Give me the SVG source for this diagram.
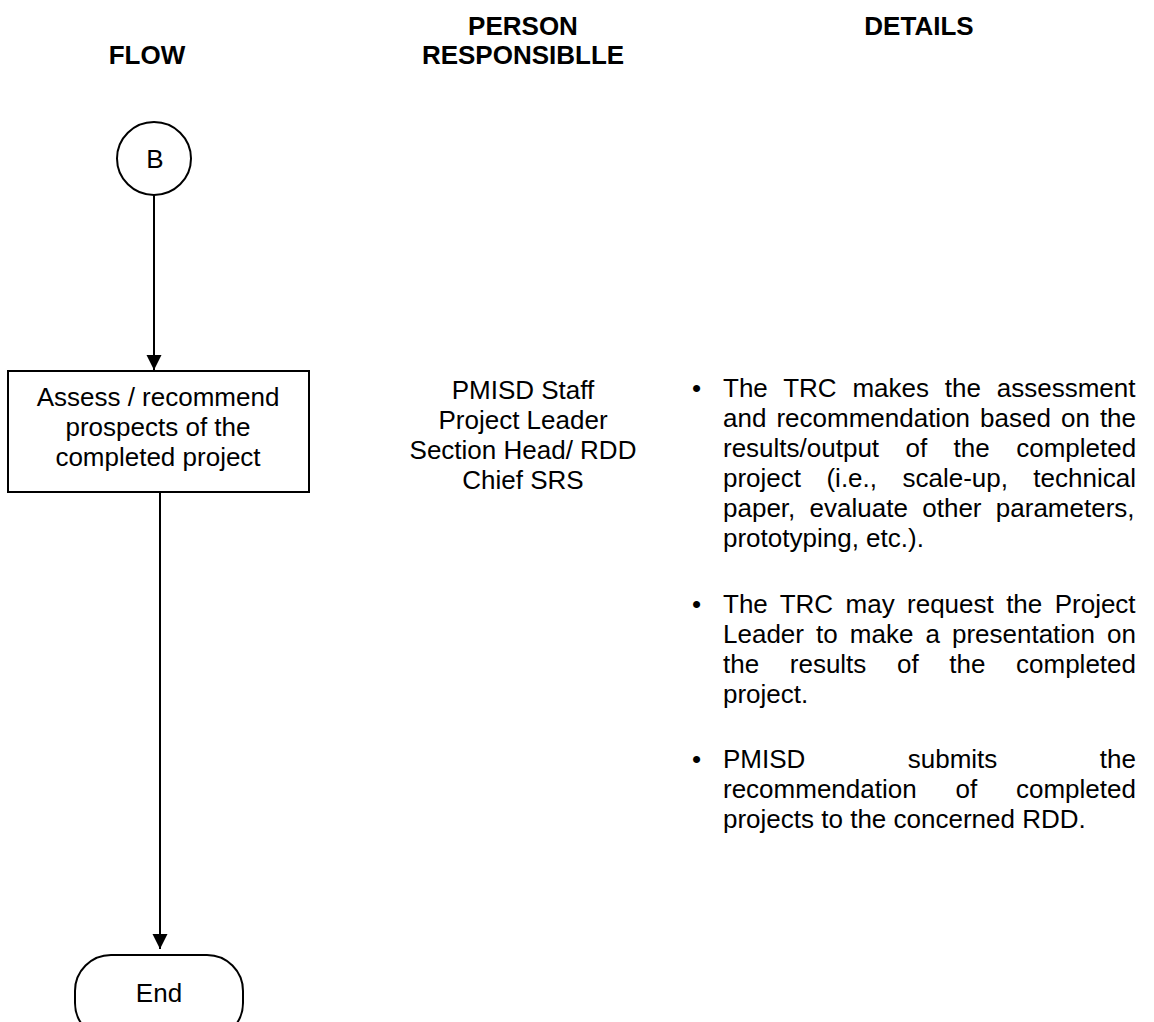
<svg xmlns="http://www.w3.org/2000/svg" width="1154" height="1022" viewBox="0 0 1154 1022">
  <style>
    text { font-family: "Liberation Sans", Arial, sans-serif; fill: #000; font-size: 26px; }
    .head { font-weight: bold; text-anchor: middle; }
    .mid { text-anchor: middle; }
    .shape { fill: #fff; stroke: #000; stroke-width: 2; }
    .conn { stroke: #000; stroke-width: 2; fill: none; }
  </style>
  <defs>
    <marker id="arrow" markerWidth="15" markerHeight="16" refX="15" refY="8" orient="auto" markerUnits="userSpaceOnUse" viewBox="0 0 15 16">
      <path d="M0,0.5 L15,8 L0,15.5 Z" fill="#000"/>
    </marker>
  </defs>
  <rect width="1154" height="1022" fill="#fff"/>

  <!-- column headings -->
  <g id="headings">
    <text class="head" x="147" y="64">FLOW</text>
    <text class="head" x="523" y="35">PERSON</text>
    <text class="head" x="523" y="64">RESPONSIBLLE</text>
    <text class="head" x="919" y="35">DETAILS</text>
  </g>

  <!-- connectors -->
  <g id="connectors">
    <line class="conn" x1="154" y1="195" x2="154" y2="370" marker-end="url(#arrow)"/>
    <line class="conn" x1="160" y1="492" x2="160" y2="949" marker-end="url(#arrow)"/>
  </g>

  <!-- off-page connector B -->
  <g id="node-b">
    <ellipse class="shape" cx="154" cy="158.5" rx="37" ry="36.5"/>
    <text class="mid" x="155" y="168">B</text>
  </g>

  <!-- process step -->
  <g id="node-assess">
    <rect class="shape" x="8" y="371" width="301" height="121"/>
    <text class="mid" x="158" y="406">Assess / recommend</text>
    <text class="mid" x="158" y="436">prospects of the</text>
    <text class="mid" x="158" y="466">completed project</text>
  </g>

  <!-- terminator -->
  <g id="node-end">
    <rect class="shape" x="75" y="955" width="168" height="84" rx="36" ry="36"/>
    <text class="mid" x="159" y="1002">End</text>
  </g>

  <!-- person responsible -->
  <g id="persons">
    <text class="mid" x="523" y="399">PMISD Staff</text>
    <text class="mid" x="523" y="429">Project Leader</text>
    <text class="mid" x="523" y="459">Section Head/ RDD</text>
    <text class="mid" x="523" y="489">Chief SRS</text>
  </g>

  <!-- details: justified lines use per-line word spacing -->
  <g id="details">
    <text x="692" y="397">•</text>
    <text x="723" y="397" word-spacing="8.6">The TRC makes the assessment</text>
    <text x="723" y="427" word-spacing="2.8">and recommendation based on the</text>
    <text x="723" y="457" word-spacing="19.2">results/output of the completed</text>
    <text x="723" y="487" word-spacing="18.2">project (i.e., scale-up, technical</text>
    <text x="723" y="517" word-spacing="7.1">paper, evaluate other parameters,</text>
    <text x="723" y="547">prototyping, etc.).</text>

    <text x="692" y="613">•</text>
    <text x="723" y="613" word-spacing="5.16">The TRC may request the Project</text>
    <text x="723" y="643" word-spacing="4.84">Leader to make a presentation on</text>
    <text x="723" y="673" word-spacing="23.4">the results of the completed</text>
    <text x="723" y="703">project.</text>

    <text x="692" y="768">•</text>
    <text x="723" y="768" word-spacing="95.2">PMISD submits the</text>
    <text x="723" y="798" word-spacing="31.6">recommendation of completed</text>
    <text x="723" y="828">projects to the concerned RDD.</text>
  </g>
</svg>
